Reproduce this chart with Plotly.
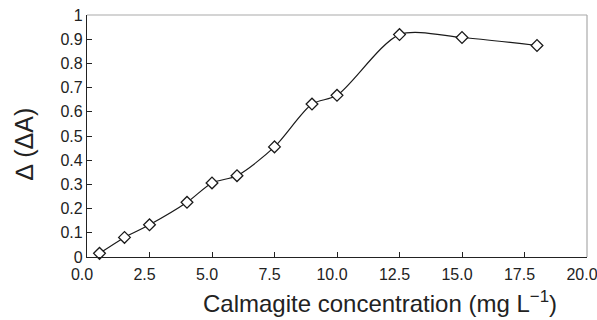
import plotly.graph_objects as go

conc = [0.5, 1.5, 2.5, 4.0, 5.0, 6.0, 7.5, 9.0, 10.0, 12.5, 15.0, 18.0]
delta_a = [0.015, 0.081, 0.133, 0.226, 0.306, 0.336, 0.455, 0.632, 0.668, 0.919, 0.907, 0.874]

x_ticks = [0, 2.5, 5, 7.5, 10, 12.5, 15, 17.5, 20]
x_tick_text = ["0.0", "2.5", "5.0", "7.5", "10.0", "12.5", "15.0", "17.5", "20.0"]
y_ticks = [0, 0.1, 0.2, 0.3, 0.4, 0.5, 0.6, 0.7, 0.8, 0.9, 1]
y_tick_text = ["0", "0.1", "0.2", "0.3", "0.4", "0.5", "0.6", "0.7", "0.8", "0.9", "1"]

fig = go.Figure()
fig.add_trace(go.Scatter(
    x=conc, y=delta_a, mode="lines+markers",
    line=dict(color="#1a1a1a", width=1.2, shape="spline", smoothing=0.8),
    marker=dict(symbol="diamond", size=9, color="white", line=dict(color="#1a1a1a", width=1.3)),
    showlegend=False, cliponaxis=False,
))

FAM = "Liberation Sans, Arial, sans-serif"
COL = "#222"

fig.update_layout(
    width=597, height=320,
    margin=dict(l=87, r=10, t=15, b=63, autoexpand=False),
    paper_bgcolor="white", plot_bgcolor="white",
    font=dict(family=FAM, color=COL, size=16),
    xaxis=dict(range=[0, 20], tickvals=x_ticks, ticktext=x_tick_text, automargin=False,
               ticks="inside", ticklen=5, tickcolor=COL, showgrid=False, zeroline=False,
               showline=True, linecolor=COL, linewidth=1.2,
               tickfont=dict(family=FAM, color=COL, size=16),
               ticklabelshift=-5, ticklabelstandoff=3, ticklabeloverflow="allow"),
    yaxis=dict(range=[0, 1], tickvals=y_ticks, ticktext=y_tick_text, automargin=False,
               ticks="inside", ticklen=5, tickcolor=COL, showgrid=False, zeroline=False,
               showline=True, linecolor=COL, linewidth=1.2,
               tickfont=dict(family=FAM, color=COL, size=16),
               ticklabeloverflow="allow"),
    shapes=[
        dict(type="line", xref="paper", yref="paper", x0=0, x1=1, y0=1, y1=1,
             line=dict(color="#aaaaaa", width=1.2), layer="below"),
        dict(type="line", xref="paper", yref="paper", x0=1, x1=1, y0=0, y1=1,
             line=dict(color="#aaaaaa", width=1.2), layer="below"),
    ],
    annotations=[
        dict(text="Calmagite concentration (mg L<sup>\u22121</sup>)", xref="paper", yref="paper",
             x=(380 - 87) / 500, y=(257 - 302) / 242, xanchor="center", yanchor="middle",
             showarrow=False, font=dict(family=FAM, color=COL, size=24)),
        dict(text="\u2206 (\u0394A)", xref="paper", yref="paper",
             x=(24 - 87) / 500, y=(257 - 144) / 242, xanchor="center", yanchor="middle",
             showarrow=False, textangle=-90, font=dict(family=FAM, color=COL, size=25)),
    ],
)

fig.write_html("out.html")
